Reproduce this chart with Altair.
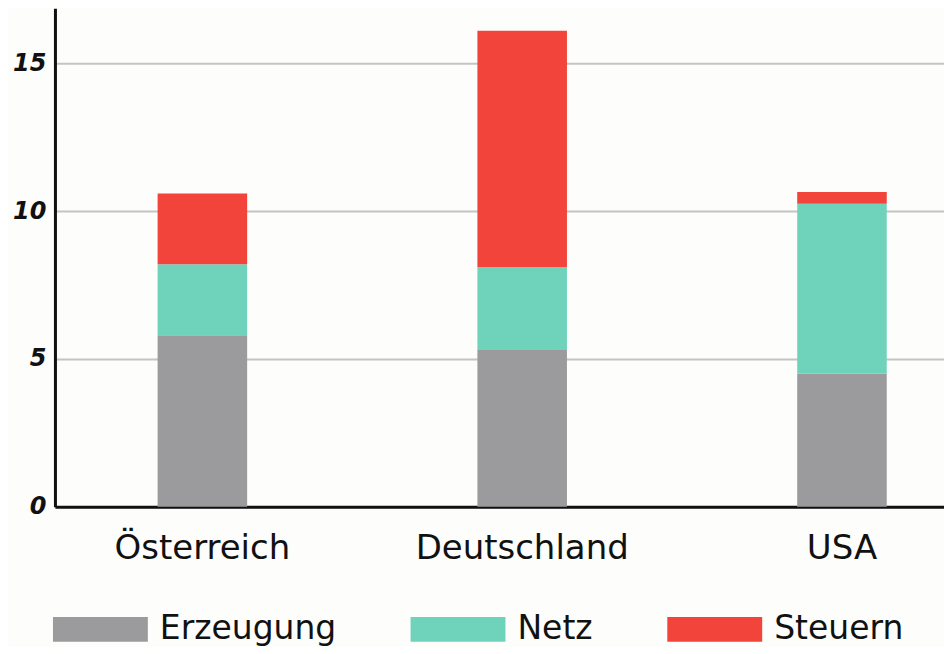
import altair as alt
import pandas as pd

countries = ["Österreich", "Deutschland", "USA"]
components = ["Erzeugung", "Netz", "Steuern"]
erzeugung = [5.8, 5.3, 4.5]
netz = [2.4, 2.8, 5.75]
steuern = [2.4, 8.0, 0.4]
colors = ["#9b9b9d", "#6fd3bb", "#f2443a"]
y_ticks = [0, 5, 10, 15]

rows = []
for i, c in enumerate(countries):
    for j, (comp, vals) in enumerate(zip(components, [erzeugung, netz, steuern])):
        rows.append({"Land": c, "Komponente": comp, "Wert": vals[i], "Ordnung": j})
df = pd.DataFrame(rows)

FONT = "DejaVu Sans"

chart = alt.Chart(df).mark_bar(opacity=1).encode(
    x=alt.X("Land:N", sort=countries,
            scale=alt.Scale(paddingInner=0.72, paddingOuter=0.25, align=0.642),
            axis=alt.Axis(title=None, labelAngle=0, labelFontSize=34, labelFont=FONT,
                          labelColor="#111111", labelPadding=25, ticks=False, labelLimit=500,
                          domainColor="#111111", domainWidth=3, grid=False)),
    y=alt.Y("Wert:Q", stack="zero",
            scale=alt.Scale(domain=[0, 16.86], nice=False, zero=True),
            axis=alt.Axis(title=None, values=y_ticks, labelFontSize=24, labelFont=FONT,
                          labelFontWeight="bold", labelFontStyle="italic",
                          labelColor="#111111", labelPadding=9, ticks=False,
                          domainColor="#111111", domainWidth=3,
                          gridColor="#c4c4c4", gridWidth=2)),
    color=alt.Color("Komponente:N", sort=components,
                    scale=alt.Scale(domain=components, range=colors),
                    legend=alt.Legend(title=None, orient="none", direction="horizontal",
                                      legendX=-2, legendY=574, padding=0,
                                      symbolType="M-1,-0.26H1V0.26H-1Z", symbolSize=9025,
                                      symbolStrokeWidth=0, symbolOpacity=1,
                                      labelFontSize=33, labelFont=FONT, labelColor="#111111",
                                      labelOffset=12, columnPadding=74, labelLimit=400)),
    order=alt.Order("Ordnung:Q", sort="ascending"),
).properties(
    width=890, height=499,
    padding={"left": 47, "top": 0, "right": 0, "bottom": 140},
    autosize=alt.AutoSizeParams(type="none"),
    background="#fdfdfb",
).configure_view(stroke=None)

chart.save("out.html", embed_options={"renderer": "svg", "actions": False})
